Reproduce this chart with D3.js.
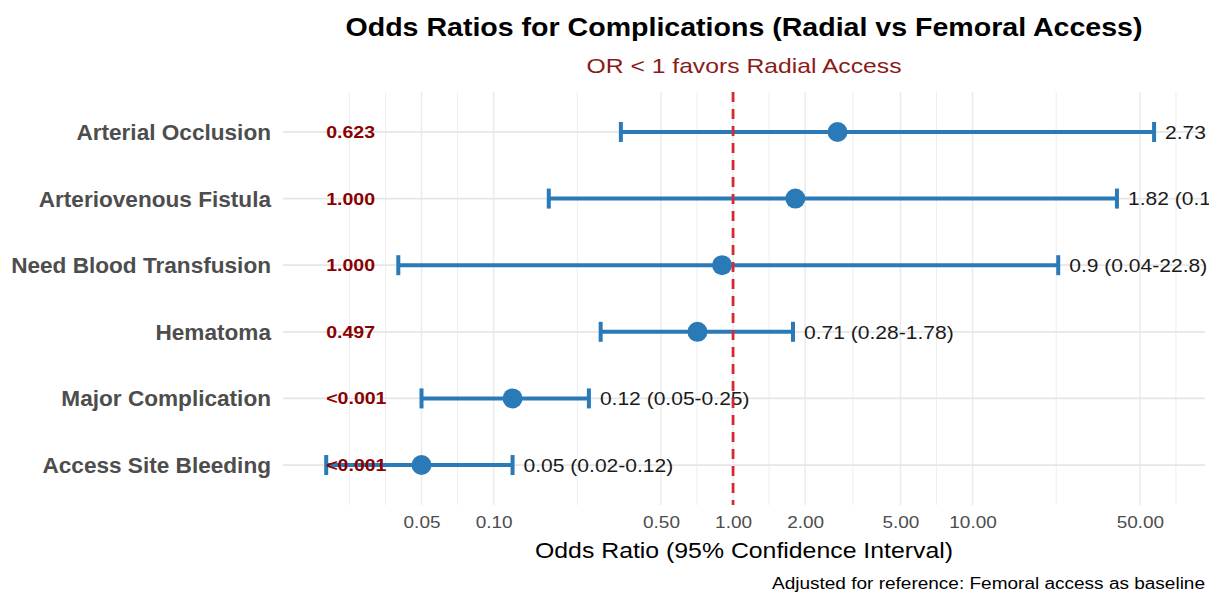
<!DOCTYPE html>
<html>
<head>
<meta charset="utf-8">
<script src="https://cdn.jsdelivr.net/npm/d3@7/dist/d3.min.js"></script>
<style>
  html, body { margin: 0; padding: 0; background: #fff; }
  svg { display: block; font-family: "Liberation Sans", Arial, Helvetica, sans-serif; }
</style>
</head>
<body>
<svg id="chart" width="1209" height="595"></svg>
<script>
// ---- data ----
const categories = ["Arterial Occlusion", "Arteriovenous Fistula", "Need Blood Transfusion", "Hematoma", "Major Complication", "Access Site Bleeding"];
const orValues = [2.73, 1.82, 0.9, 0.71, 0.12, 0.05];
const ciLower = [0.34, 0.17, 0.04, 0.28, 0.05, 0.02];
const ciUpper = [57.3, 40.1, 22.8, 1.78, 0.25, 0.12];
const pValues = ["0.623", "1.000", "1.000", "0.497", "<0.001", "<0.001"];
const majorTicks = [0.05, 0.1, 0.5, 1, 2, 5, 10, 50];
const minorTicks = [0.025, 0.0354, 0.0707, 0.2236, 0.7071, 1.4142, 3.1623, 7.0711, 22.36, 70.71];
const xDomain = [0.0132, 93.5];
const pValuePosition = 0.02;

const titleText = "Odds Ratios for Complications (Radial vs Femoral Access)";
const subtitleText = "OR < 1 favors Radial Access";
const xTitleText = "Odds Ratio (95% Confidence Interval)";
const captionText = "Adjusted for reference: Femoral access as baseline";

const rows = categories.map((c, i) => ({
  cat: c, or: orValues[i], lo: ciLower[i], hi: ciUpper[i], p: pValues[i],
  label: `${orValues[i]} (${ciLower[i]}-${ciUpper[i]})`
}));

// ---- layout ----
const panel = { left: 283, right: 1205, top: 92, bottom: 505 };
const svg = d3.select("#chart");
const blue = "#2A7AB7";
const sx = 1.15;

const x = d3.scaleLog().domain(xDomain).range([panel.left, panel.right]);
const y = d3.scalePoint().domain(categories).range([panel.top, panel.bottom]).padding(0.6);

// gridlines
const grid = svg.append("g");
grid.selectAll("line.minor").data(minorTicks).join("line")
  .attr("x1", d => x(d)).attr("x2", d => x(d))
  .attr("y1", panel.top).attr("y2", panel.bottom)
  .attr("stroke", "#EFEFEF").attr("stroke-width", 1.1);
grid.selectAll("line.major").data(majorTicks).join("line")
  .attr("x1", d => x(d)).attr("x2", d => x(d))
  .attr("y1", panel.top).attr("y2", panel.bottom)
  .attr("stroke", "#EBEBEB").attr("stroke-width", 1.5);
grid.selectAll("line.hy").data(categories).join("line")
  .attr("x1", panel.left).attr("x2", panel.right)
  .attr("y1", d => y(d)).attr("y2", d => y(d))
  .attr("stroke", "#E6E6E6").attr("stroke-width", 1.8);

// error bars
const eb = svg.append("g");
eb.selectAll("line.bar").data(rows).join("line")
  .attr("x1", d => x(d.lo)).attr("x2", d => x(d.hi))
  .attr("y1", d => y(d.cat)).attr("y2", d => y(d.cat))
  .attr("stroke", blue).attr("stroke-width", 4);
eb.selectAll("line.capl").data(rows).join("line")
  .attr("x1", d => x(d.lo)).attr("x2", d => x(d.lo))
  .attr("y1", d => y(d.cat) - 10).attr("y2", d => y(d.cat) + 10)
  .attr("stroke", blue).attr("stroke-width", 4);
eb.selectAll("line.capr").data(rows).join("line")
  .attr("x1", d => x(d.hi)).attr("x2", d => x(d.hi))
  .attr("y1", d => y(d.cat) - 10).attr("y2", d => y(d.cat) + 10)
  .attr("stroke", blue).attr("stroke-width", 4);

// points
svg.append("g").selectAll("circle").data(rows).join("circle")
  .attr("cx", d => x(d.or)).attr("cy", d => y(d.cat)).attr("r", 10)
  .attr("fill", blue);

// CI labels
svg.append("g").selectAll("text").data(rows).join("text")
  .attr("transform", d => `translate(${x(d.hi) + 11},${y(d.cat) + 6.8}) scale(${1.12},1)`)
  .attr("font-size", 18.8).attr("fill", "#1a1a1a")
  .text(d => d.label);

// p-values
svg.append("g").selectAll("text").data(rows).join("text")
  .attr("transform", d => `translate(${x(pValuePosition)},${y(d.cat) + 6}) scale(${sx},1)`)
  .attr("font-size", 17).attr("font-weight", "bold").attr("fill", "#8B0000")
  .text(d => d.p);

// y labels
svg.append("g").selectAll("text").data(rows).join("text")
  .attr("x", 271).attr("y", d => y(d.cat) + 8)
  .attr("text-anchor", "end")
  .attr("font-size", 22.6).attr("font-weight", "bold").attr("fill", "#4D4D4D")
  .text(d => d.cat);

// reference line
svg.append("line")
  .attr("x1", x(1)).attr("x2", x(1))
  .attr("y1", panel.top).attr("y2", panel.bottom)
  .attr("stroke", "#D42A36").attr("stroke-width", 2.8)
  .attr("stroke-dasharray", "10,7");

// x axis tick labels
const xAxis = d3.axisBottom(x).tickValues(majorTicks).tickFormat(d3.format(".2f")).tickSize(0).tickPadding(0);
const ax = svg.append("g").attr("transform", `translate(0,${panel.bottom})`).call(xAxis);
ax.select(".domain").remove();
ax.selectAll("text")
  .attr("y", 0).attr("dy", 0)
  .attr("transform", `translate(0,23) scale(${sx},1)`)
  .attr("font-size", 16.5).attr("fill", "#4D4D4D")
  .attr("font-family", "Liberation Sans, Arial, sans-serif");

// titles
const cx = (panel.left + panel.right) / 2;
function fitted(txt, xPos, yPos, width, size, opts) {
  const t = svg.append("text").attr("x", xPos).attr("y", yPos)
    .attr("font-size", size).text(txt);
  Object.entries(opts || {}).forEach(([k, v]) => t.attr(k, v));
  t.attr("textLength", width).attr("lengthAdjust", "spacingAndGlyphs");
  return t;
}
fitted(titleText, cx, 36, 797, 25.5, { "text-anchor": "middle", "font-weight": "bold", "fill": "#000" });
fitted(subtitleText, cx, 73, 315, 21, { "text-anchor": "middle", "fill": "#8B1A1A" });
fitted(xTitleText, cx, 558, 418, 22, { "text-anchor": "middle", "fill": "#000" });
fitted(captionText, 1205, 589, 433, 16, { "text-anchor": "end", "fill": "#000" });
</script>
</body>
</html>
